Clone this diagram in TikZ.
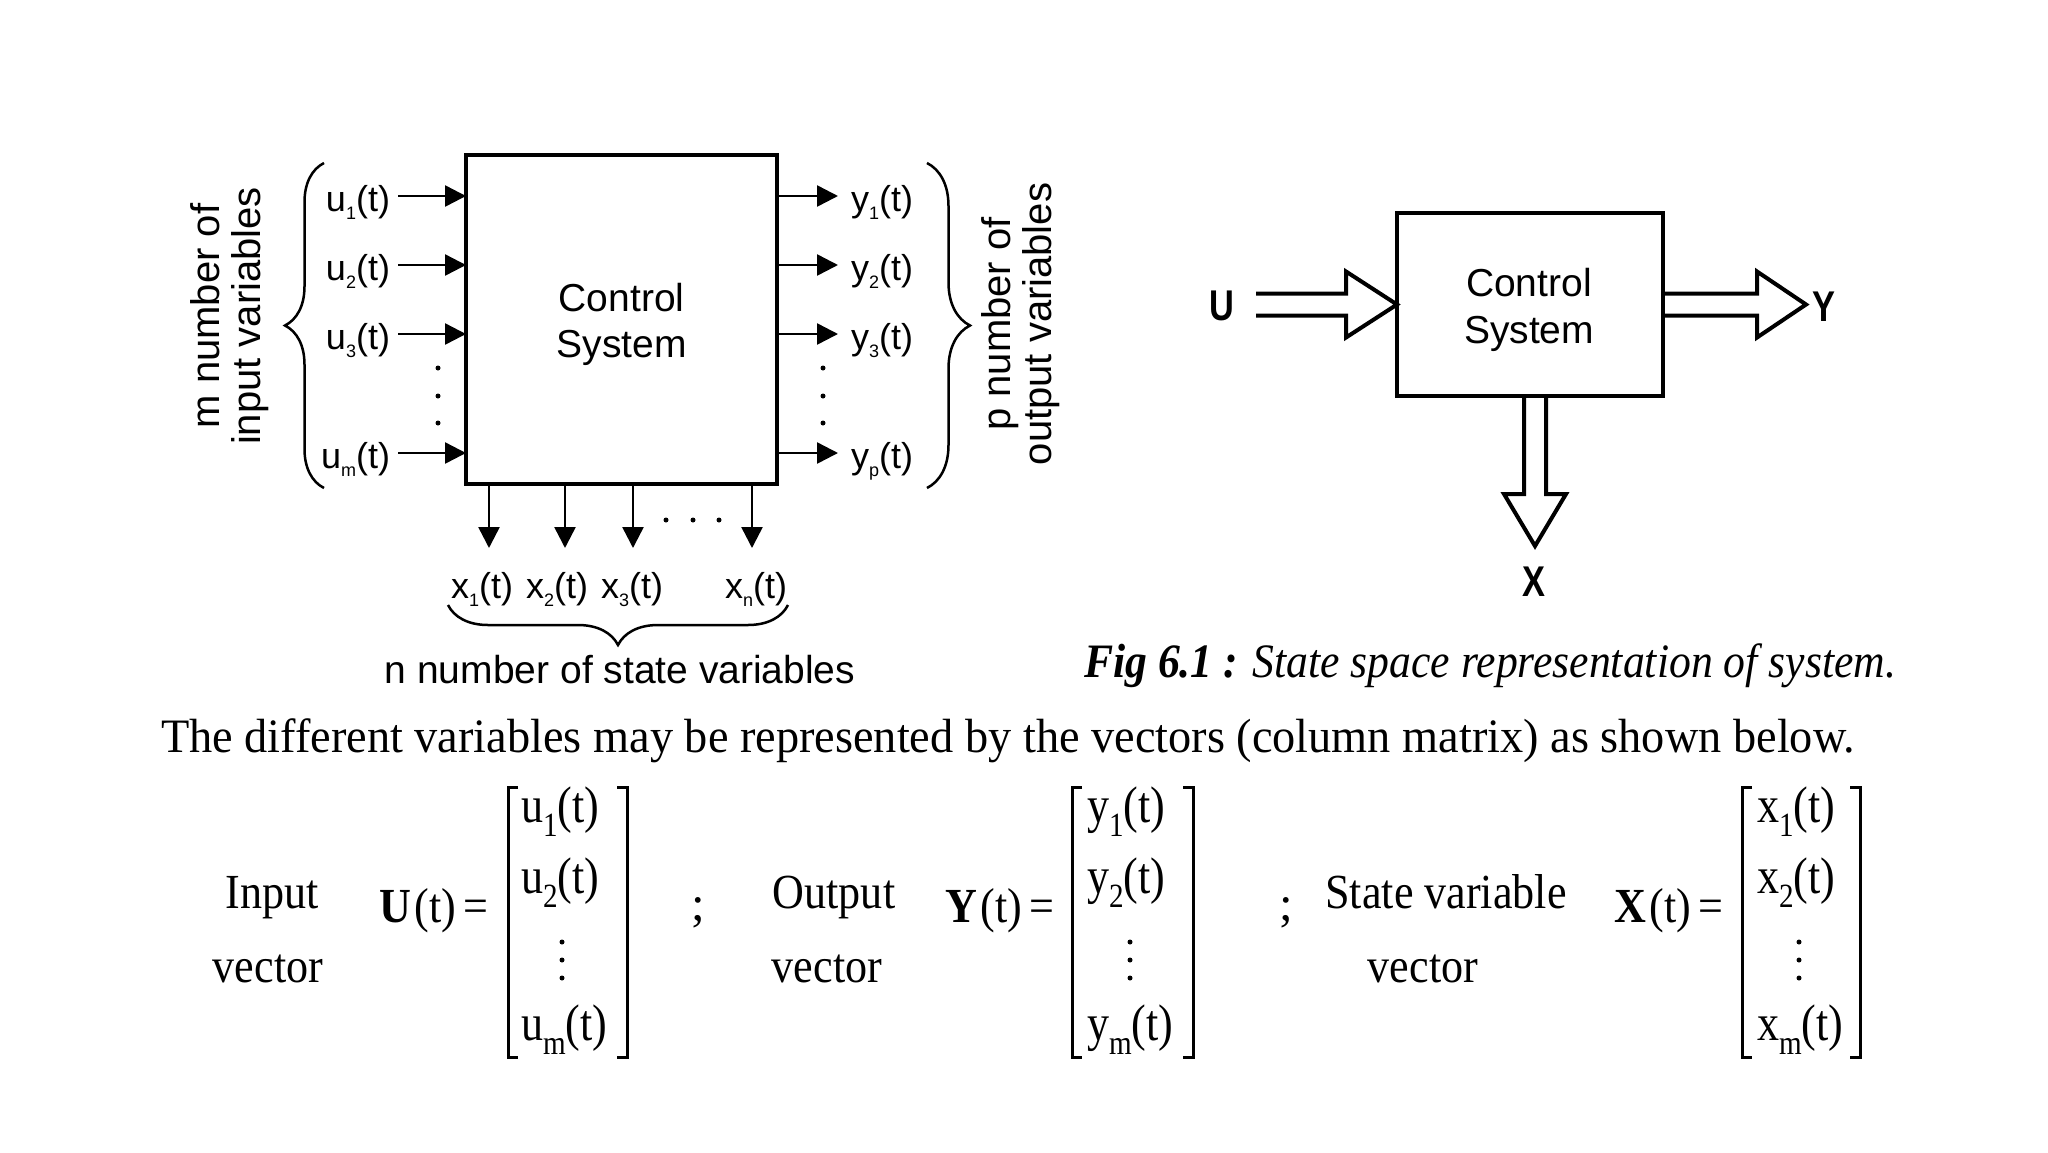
\documentclass[tikz,border=0pt]{standalone}
\usepackage{fontspec}
\setmainfont{Liberation Serif}
\setsansfont{Liberation Sans}
\usetikzlibrary{arrows.meta,decorations.pathreplacing,calc}
\newcommand\fsz[2]{\fontsize{#1pt}{#2pt}\selectfont}
\newcommand\ssub[1]{\raisebox{-0.24em}{\scalebox{0.5}{#1}}}
\newcommand\rsub[1]{\raisebox{-0.28em}{\scalebox{0.66}{#1}}}
\newcommand\cx[1]{\scalebox{0.9}[1]{#1}}
\begin{document}
\begin{tikzpicture}[x=1pt,y=-1pt,
  every node/.style={inner sep=0pt, outer sep=0pt},
  sysbox/.style={draw, line width=3.5pt, font=\sffamily\fsz{39}{46}, align=center},
  arr/.style={line width=2.5pt, -{Triangle[length=21pt,width=21pt]}},
  sig/.style={font=\sffamily\fsz{36}{36}, anchor=base},
  dotc/.style={fill, circle, minimum size=5pt},
  brc/.style={line width=2.5pt, decorate},
  rot/.style={font=\sffamily\fsz{40}{41}, align=center, rotate=90},
  fat/.style={line width=4pt, line join=miter},
  big/.style={font=\sffamily\bfseries\fsz{43}{43}},
  ser/.style={font=\rmfamily\fsz{49}{49}, anchor=base},
  brk/.style={line width=3pt},
  mat/.style={minimum height=270pt}
]
\fill[white] (0,0) rectangle (2048,1152);
\useasboundingbox (0,0) rectangle (2048,1152);

% ---------- left diagram ----------
\node[sysbox, minimum width=311pt, minimum height=329pt] (sys) at (621.5,319.5) {};
\node[font=\sffamily\fsz{39}{46}, align=center] (systxt) at (621.5,324) {Control\\System};

\foreach \n/\yy/\lab in {1/196/1, 2/265/2, 3/334/3, 4/453/m}{
  \coordinate (in\n) at (398,\yy);
  \draw[arr] (in\n) -- (in\n -| sys.west);
  \node[sig, anchor=base east] (u\n) at (390,\yy+15) {u\ssub{\lab}(t)};
}
\foreach \n/\yy/\lab in {1/196/1, 2/265/2, 3/334/3, 4/453/p}{
  \coordinate (out\n) at (838,\yy);
  \draw[arr] (out\n -| sys.east) -- (out\n);
  \node[sig, anchor=base west] (y\n) at (851,\yy+15) {y\ssub{\lab}(t)};
}
\foreach \yy [count=\k] in {368,396,423}{
  \node[dotc] (di\k) at (438,\yy) {};
  \node[dotc] (do\k) at (823,\yy) {};
}
\foreach \n/\xx in {1/489, 2/565, 3/633, 4/752}{
  \coordinate (st\n) at (\xx,548);
  \draw[arr] (st\n |- sys.south) -- (st\n);
}
\foreach \n/\xx/\lab in {1/482/1, 2/557/2, 3/632/3, 4/756/n}{
  \node[sig] (x\n) at (\xx,598) {x\ssub{\lab}(t)};
}
\foreach \xx [count=\k] in {666,693,719}{
  \node[dotc] (ds\k) at (\xx,520) {};
}

\draw[brc, decoration={brace, amplitude=39pt}] (324,488) -- (324,163);
\draw[brc, decoration={brace, amplitude=43pt}] (927,163) -- (927,488);
\draw[brc, decoration={brace, amplitude=40pt}] (788,605) -- (448,605);

\node[rot] (mlab) at (230,316) {m number of\\input variables};
\node[rot] (plab) at (1021,324) {p number of\\output variables};
\node[font=\sffamily\fsz{39}{39}, anchor=base] (nlab) at (620,683) {n number of state variables};

% ---------- right diagram ----------
\node[sysbox, line width=4pt, minimum width=266pt, minimum height=183pt] (sys2) at (1530,304.5) {};
\node[font=\sffamily\fsz{39}{47}, align=center] (sys2txt) at (1529,310) {Control\\System};

\draw[fat] ($(sys2.west)+(-141,-11)$) -- ++(90,0) -- ++(0,-22) -- (sys2.west)
  -- ($(sys2.west)+(-51,33)$) -- ++(0,-22) -- ++(-90,0);
\coordinate (ytip) at ($(sys2.east)+(143,0)$);
\draw[fat] ($(sys2.east)+(0,-11)$) -- ++(94,0) -- ++(0,-22) -- (ytip)
  -- ($(sys2.east)+(94,33)$) -- ++(0,-22) -- ++(-94,0);
\coordinate (S) at ($(sys2.south)+(5,0)$);
\coordinate (xtip) at ($(S)+(0,150)$);
\draw[fat] ($(S)+(-11,0)$) -- ++(0,98) -- ++(-20,0) -- (xtip)
  -- ($(S)+(31,98)$) -- ++(-20,0) -- ++(0,-98);

\node[big] (lU) at (1222,306) {\scalebox{0.8}[1]{U}};
\node[big] (lY) at (1824,307) {\scalebox{0.8}[1]{Y}};
\node[big] (lX) at (1534,582) {\scalebox{0.8}[1]{X}};

% ---------- caption & sentence ----------
\node[anchor=base west, font=\rmfamily\fsz{48}{48}] (cap) at (1084,677)
  {\scalebox{0.91}[1]{{\bfseries\itshape Fig 6.1 :} \itshape State space representation of system.}};
\node[anchor=base west, font=\rmfamily\fsz{48}{48}] (sent) at (161,752)
  {\scalebox{0.965}[1]{The different variables may be represented by the vectors (column matrix) as shown below.}};

% ---------- vectors ----------
\node[ser] (inA) at (272,908) {\cx{Input}};
\node[ser] (inB) at (268,982) {\cx{vector}};
\node[ser] (outA) at (834,908) {\cx{Output}};
\node[ser] (outB) at (827,982) {\cx{vector}};
\node[ser] (stA) at (1446,908) {\cx{State variable}};
\node[ser] (stB) at (1423,982) {\cx{vector}};
\node[ser] (sc1) at (698,920) {;};
\node[ser] (sc2) at (1286,920) {;};

\node[ser, anchor=base west] (ueq) at (379,922) {\cx{{\bfseries U}\kern4pt(t)\kern8pt=}};
\node[ser, anchor=base west] (yeq) at (945,922) {\cx{{\bfseries Y}\kern4pt(t)\kern8pt=}};
\node[ser, anchor=base west] (xeq) at (1614,922) {\cx{{\bfseries X}\kern4pt(t)\kern8pt=}};

\foreach \m/\cx/\w/\ex/\dx/\v/\last in {mu/567.5/119/521/562/u/m, my/1132.5/121/1087/1130/y/m, mx/1801/118/1757/1799/x/m}{
  \node[mat, minimum width=\w pt] (\m) at (\cx,922) {};
  \draw[brk] ([xshift=10pt]\m.north west) -- (\m.north west) -- (\m.south west) -- ([xshift=10pt]\m.south west);
  \draw[brk] ([xshift=-10pt]\m.north east) -- (\m.north east) -- (\m.south east) -- ([xshift=-10pt]\m.south east);
  \node[ser, anchor=base west] (\m e1) at (\ex,822) {\scalebox{0.9}[1.05]{\v\rsub{1}(t)}};
  \node[ser, anchor=base west] (\m e2) at (\ex,893) {\scalebox{0.9}[1.05]{\v\rsub{2}(t)}};
  \node[ser, anchor=base west] (\m e4) at (\ex,1040) {\scalebox{0.9}[1.05]{\v\rsub{\last}(t)}};
  \node[dotc] (\m d1) at (\dx,942) {};
  \node[dotc] (\m d2) at (\dx,960) {};
  \node[dotc] (\m d3) at (\dx,978) {};
}
\end{tikzpicture}
\end{document}
